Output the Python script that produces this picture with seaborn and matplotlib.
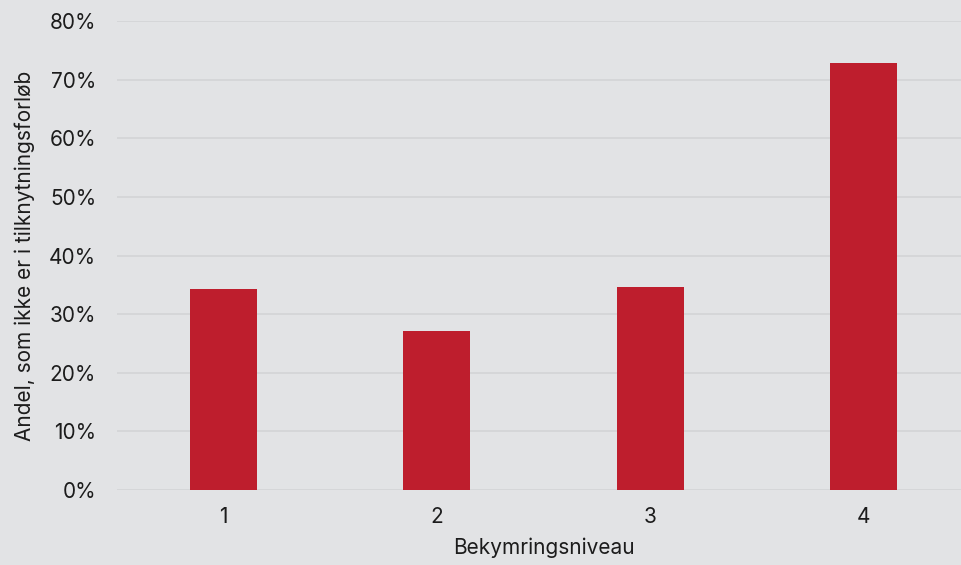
import matplotlib
matplotlib.use("Agg")
import matplotlib.pyplot as plt
from matplotlib.ticker import PercentFormatter
import seaborn as sns
import pandas as pd

levels = ["1", "2", "3", "4"]
shares = [0.343, 0.272, 0.346, 0.728]

bg = "#e2e3e5"
bar_color = "#be1e2d"
grid_color = "#d3d4d6"
text_color = "#1c1c1c"

sns.set_theme(style="whitegrid")
plt.rcParams["font.family"] = ["Inter", "DejaVu Sans"]

df = pd.DataFrame({"level": levels, "share": shares})

fig = plt.figure(figsize=(9.61, 5.65), dpi=100, facecolor=bg)
ax = fig.add_axes([117 / 961, 75 / 565, 853 / 961, 469 / 565])
ax.set_facecolor(bg)

sns.barplot(data=df, x="level", y="share", color=bar_color, width=0.315,
            saturation=1, linewidth=0, ax=ax)

ax.set_ylim(0, 0.8)
ax.set_xlim(-0.5, 3.5)
ax.set_yticks([i / 10 for i in range(9)])
ax.yaxis.set_major_formatter(PercentFormatter(1.0, decimals=0))
ax.grid(axis="y", color=grid_color, linewidth=1.2)
ax.grid(axis="x", visible=False)
ax.set_axisbelow(True)
for s in ax.spines.values():
    s.set_visible(False)
ax.tick_params(axis="both", length=0, labelsize=15, colors=text_color)
ax.tick_params(axis="y", pad=15)
ax.tick_params(axis="x", pad=12)

ax.set_xlabel("Bekymringsniveau", fontsize=15, color=text_color, labelpad=8)
ax.set_ylabel("Andel, som ikke er i tilknytningsforløb", fontsize=15,
              color=text_color, labelpad=10)

fig.savefig("out.png", dpi=100, facecolor=bg)
